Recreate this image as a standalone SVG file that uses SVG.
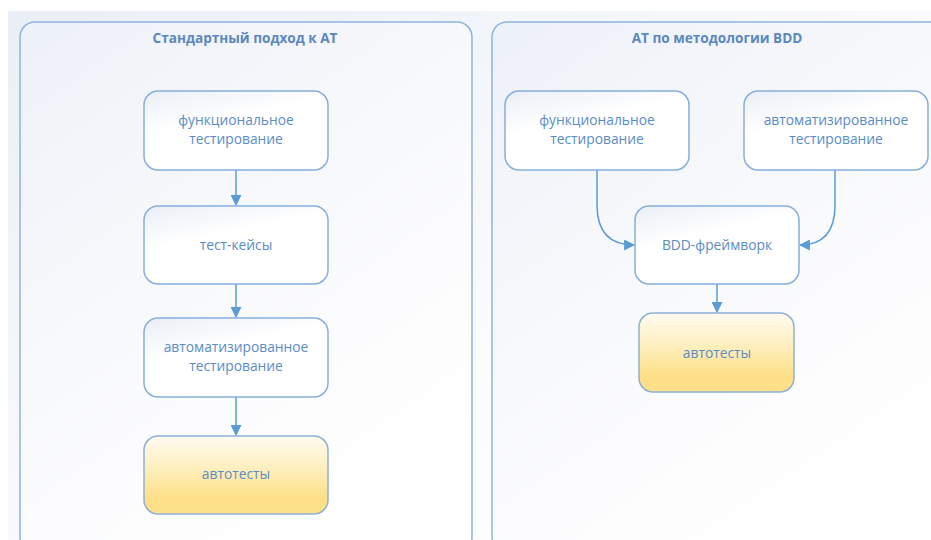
<svg xmlns="http://www.w3.org/2000/svg" width="931" height="540" viewBox="0 0 931 540">
<defs>
<linearGradient id="bg" x1="0" y1="0" x2="1" y2="1">
<stop offset="0" stop-color="#eaeff7"/>
<stop offset="0.6" stop-color="#fbfcfe"/>
<stop offset="1" stop-color="#ffffff"/>
</linearGradient>
<linearGradient id="cont" x1="0" y1="0" x2="0.6" y2="1">
<stop offset="0" stop-color="#edf1f8"/>
<stop offset="0.5" stop-color="#f8f9fc"/>
<stop offset="1" stop-color="#ffffff"/>
</linearGradient>
<linearGradient id="node" x1="0" y1="0" x2="0.5" y2="1">
<stop offset="0" stop-color="#eaeef6"/>
<stop offset="0.45" stop-color="#ffffff"/>
<stop offset="1" stop-color="#ffffff"/>
</linearGradient>
<linearGradient id="gold" x1="0" y1="0" x2="0" y2="1">
<stop offset="0" stop-color="#fffbf0"/>
<stop offset="0.4" stop-color="#feefc0"/>
<stop offset="0.8" stop-color="#fddf87"/>
<stop offset="1" stop-color="#fde08c"/>
</linearGradient>
<marker id="arr" viewBox="0 0 10 10" refX="9" refY="5" markerWidth="11" markerHeight="11" markerUnits="userSpaceOnUse" orient="auto">
<path d="M0,0 L10,5 L0,10 Z" fill="#5b9bd5"/>
</marker>
</defs>
<style>
.cont{fill:url(#cont);stroke:#8fb4de;stroke-width:1.5}
.box{fill:url(#node);stroke:#86afdc;stroke-width:1.5}
.gbox{fill:url(#gold);stroke:#8fb0d6;stroke-width:1.5}
text{font-family:"Open Sans","Noto Sans",sans-serif;fill:#5a8cc6;font-size:13.8px;text-anchor:middle}
.title{font-weight:bold;fill:#5b88bd;font-size:13.6px}
.conn path{fill:none;stroke:#5b9bd5;stroke-width:1.5;marker-end:url(#arr)}
</style>
<rect x="0" y="0" width="931" height="540" fill="#ffffff"/>
<rect x="8" y="11" width="923" height="529" fill="url(#bg)"/>

<g id="left-container">
<rect class="cont" x="20" y="22" width="452" height="530" rx="15"/>
<text class="title" x="245" y="43">Стандартный подход к АТ</text>
</g>
<g id="right-container">
<rect class="cont" x="492" y="22" width="460" height="530" rx="15"/>
<text class="title" x="717" y="43">АТ по методологии BDD</text>
</g>

<g class="conn" id="connectors">
<path d="M236,170 V205"/>
<path d="M236,284 V317"/>
<path d="M236,397 V435"/>
<path d="M717,284 V312"/>
<path d="M597,170 V205 Q597,245 634,245"/>
<path d="M835,170 V205 Q835,245 800,245"/>
</g>

<g id="l-func">
<rect class="box" x="144" y="91" width="184" height="79" rx="14"/>
<text x="236" y="125">функциональное</text>
<text x="236" y="144">тестирование</text>
</g>
<g id="l-cases">
<rect class="box" x="144" y="206" width="184" height="78" rx="14"/>
<text x="236" y="250">тест-кейсы</text>
</g>
<g id="l-auto">
<rect class="box" x="144" y="318" width="184" height="79" rx="14"/>
<text x="236" y="352">автоматизированное</text>
<text x="236" y="371">тестирование</text>
</g>
<g id="l-tests">
<rect class="gbox" x="144" y="436" width="184" height="78" rx="14"/>
<text x="236" y="479">автотесты</text>
</g>

<g id="r-func">
<rect class="box" x="505" y="91" width="184" height="79" rx="14"/>
<text x="597" y="125">функциональное</text>
<text x="597" y="144">тестирование</text>
</g>
<g id="r-auto">
<rect class="box" x="744" y="91" width="184" height="79" rx="14"/>
<text x="836" y="125">автоматизированное</text>
<text x="836" y="144">тестирование</text>
</g>
<g id="r-bdd">
<rect class="box" x="635" y="206" width="164" height="78" rx="14"/>
<text x="717" y="250">BDD-фреймворк</text>
</g>
<g id="r-tests">
<rect class="gbox" x="639" y="313" width="155" height="79" rx="14"/>
<text x="717" y="358">автотесты</text>
</g>
</svg>
